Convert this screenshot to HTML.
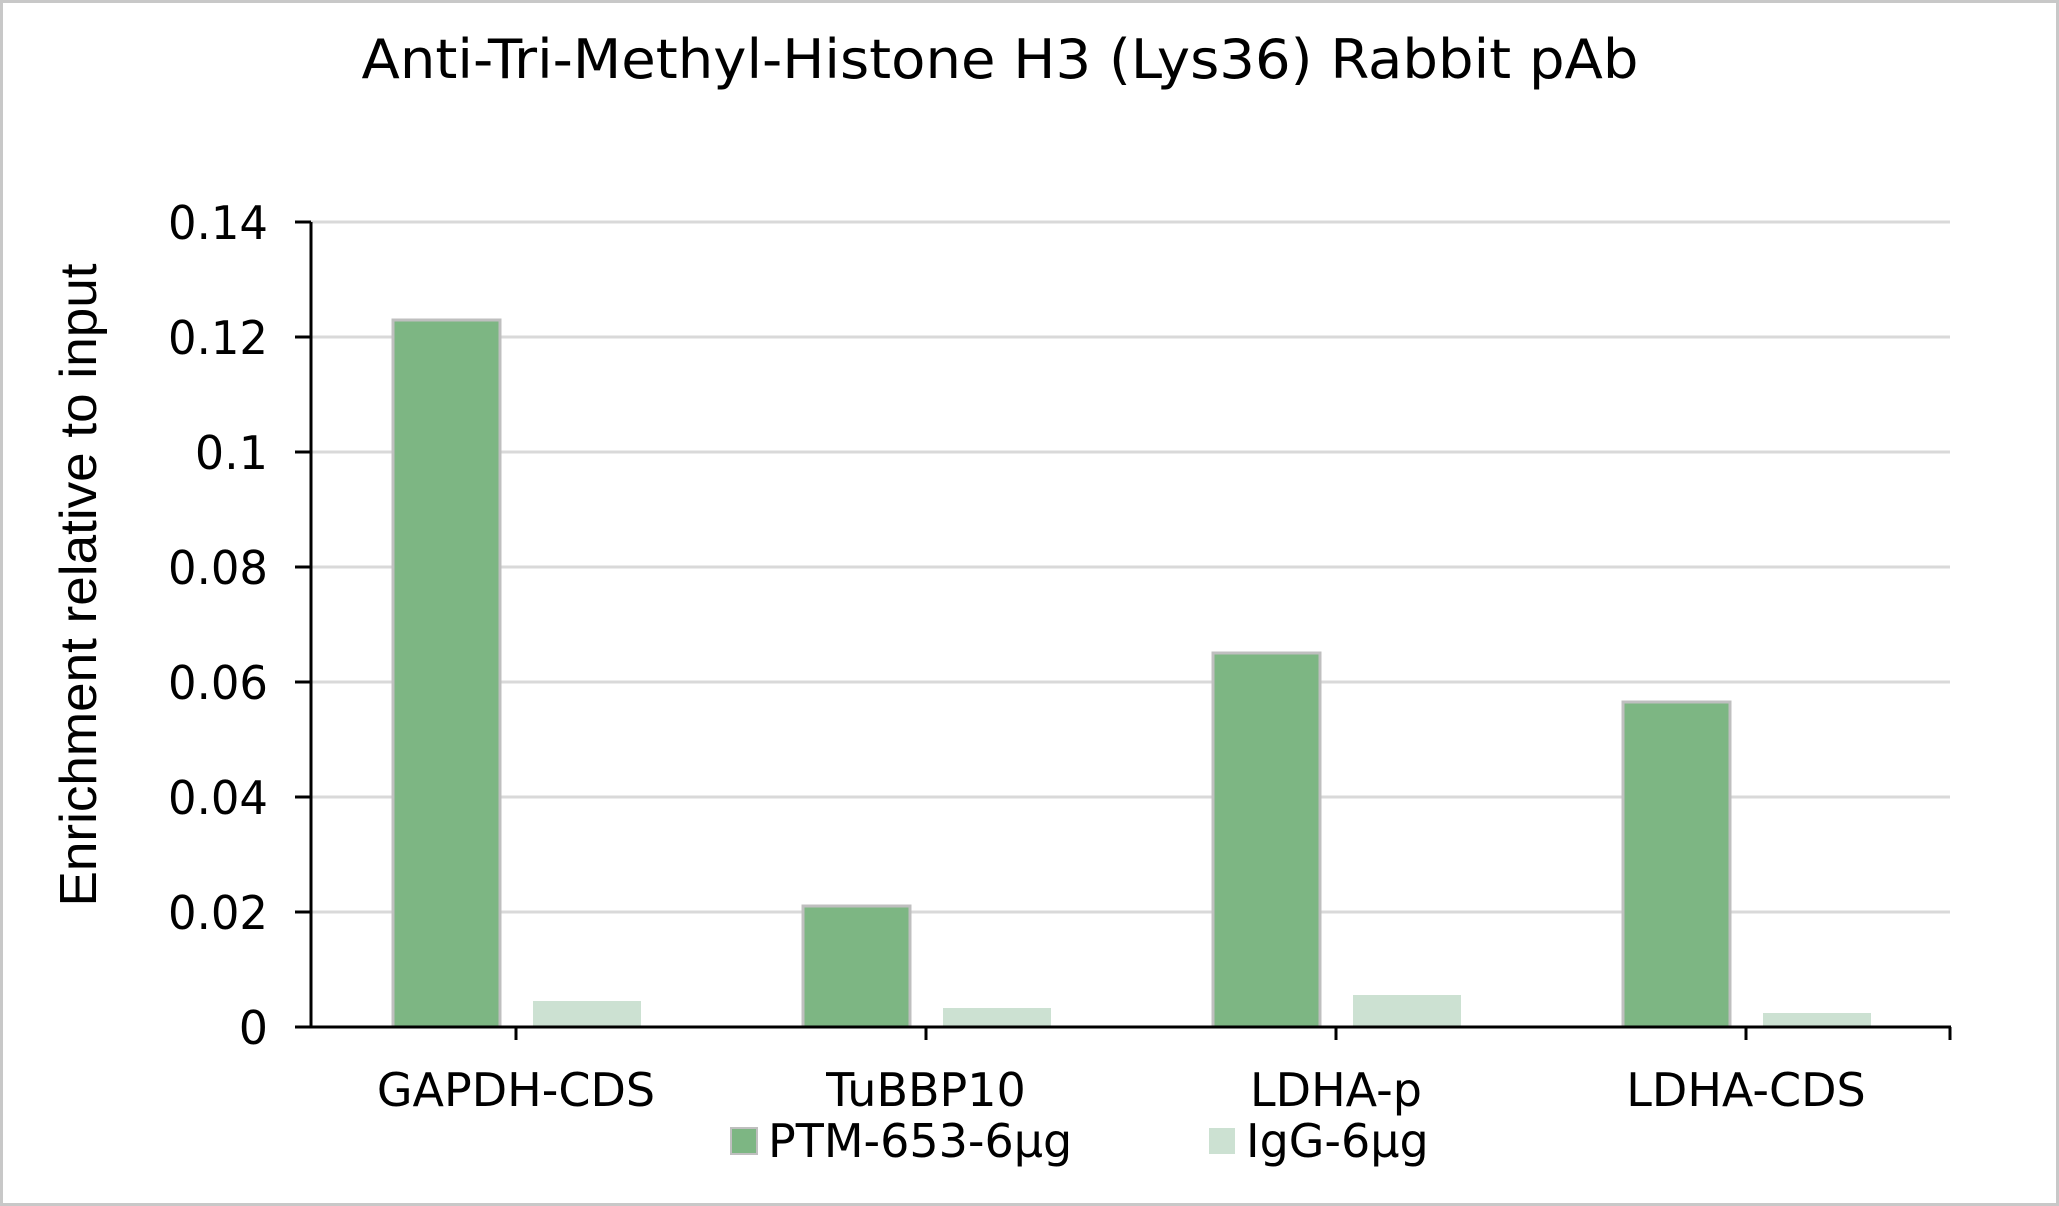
<!DOCTYPE html>
<html><head><meta charset="utf-8"><style>
html,body{margin:0;padding:0;background:#fff;}
svg{display:block;}
</style></head><body>
<svg width="2059" height="1206" viewBox="0 0 2059 1206" xmlns="http://www.w3.org/2000/svg" font-family="'DejaVu Sans','Liberation Sans',sans-serif">
<rect x="1.5" y="1.5" width="2056" height="1203" fill="#fff" stroke="#c8c8c8" stroke-width="3"/>
<text x="1000" y="78" font-size="54" text-anchor="middle" textLength="1277" lengthAdjust="spacingAndGlyphs" fill="#000">Anti-Tri-Methyl-Histone H3 (Lys36) Rabbit pAb</text>
<g stroke="#d9d9d9" stroke-width="3">
<line x1="311" x2="1950" y1="222" y2="222"/>
<line x1="311" x2="1950" y1="337" y2="337"/>
<line x1="311" x2="1950" y1="452" y2="452"/>
<line x1="311" x2="1950" y1="567" y2="567"/>
<line x1="311" x2="1950" y1="682" y2="682"/>
<line x1="311" x2="1950" y1="797" y2="797"/>
<line x1="311" x2="1950" y1="912" y2="912"/>
</g>
<g fill="#7db683" stroke="#bfbfbf" stroke-width="3">
<rect x="393" y="320" width="107" height="707"/>
<rect x="803" y="906" width="107" height="121"/>
<rect x="1213" y="653" width="107" height="374"/>
<rect x="1623" y="702" width="107" height="325"/>
</g>
<g fill="#cce1d2">
<rect x="533" y="1001" width="108" height="26"/>
<rect x="943" y="1008" width="108" height="19"/>
<rect x="1353" y="995" width="108" height="32"/>
<rect x="1763" y="1013" width="108" height="14"/>
</g>
<g stroke="#000" stroke-width="3" fill="none">
<line x1="311" y1="222" x2="311" y2="1028"/>
<line x1="311" y1="1027" x2="1951" y2="1027"/>
<line x1="295" x2="311" y1="222" y2="222"/><line x1="295" x2="311" y1="337" y2="337"/>
<line x1="295" x2="311" y1="452" y2="452"/><line x1="295" x2="311" y1="567" y2="567"/>
<line x1="295" x2="311" y1="682" y2="682"/><line x1="295" x2="311" y1="797" y2="797"/>
<line x1="295" x2="311" y1="912" y2="912"/><line x1="295" x2="311" y1="1027" y2="1027"/>
<line x1="516" x2="516" y1="1027" y2="1040"/><line x1="926" x2="926" y1="1027" y2="1040"/>
<line x1="1336" x2="1336" y1="1027" y2="1040"/><line x1="1746" x2="1746" y1="1027" y2="1040"/>
<line x1="1950" x2="1950" y1="1027" y2="1040"/>
</g>
<g font-size="46" text-anchor="end" fill="#000">
<text x="268" y="239" textLength="100" lengthAdjust="spacingAndGlyphs">0.14</text><text x="268" y="354" textLength="100" lengthAdjust="spacingAndGlyphs">0.12</text>
<text x="268" y="469">0.1</text><text x="268" y="584" textLength="100" lengthAdjust="spacingAndGlyphs">0.08</text>
<text x="268" y="699" textLength="100" lengthAdjust="spacingAndGlyphs">0.06</text><text x="268" y="814" textLength="100" lengthAdjust="spacingAndGlyphs">0.04</text>
<text x="268" y="929" textLength="100" lengthAdjust="spacingAndGlyphs">0.02</text><text x="268" y="1044">0</text>
</g>
<text transform="translate(96,585) rotate(-90)" font-family="'Liberation Sans',sans-serif" font-size="52" text-anchor="middle" textLength="643" lengthAdjust="spacingAndGlyphs" fill="#000">Enrichment relative to input</text>
<g font-size="46" text-anchor="middle" fill="#000">
<text x="516" y="1106">GAPDH-CDS</text>
<text x="926" y="1106">TuBBP10</text>
<text x="1336" y="1106">LDHA-p</text>
<text x="1746" y="1106">LDHA-CDS</text>
</g>
<rect x="731" y="1128" width="26" height="26" fill="#7db683" stroke="#bfbfbf" stroke-width="2"/>
<text x="768" y="1157" font-size="46" fill="#000">PTM-653-6μg</text>
<rect x="1209" y="1128" width="26" height="26" fill="#cce1d2"/>
<text x="1246" y="1157" font-size="46" fill="#000">IgG-6μg</text>
</svg>
</body></html>
